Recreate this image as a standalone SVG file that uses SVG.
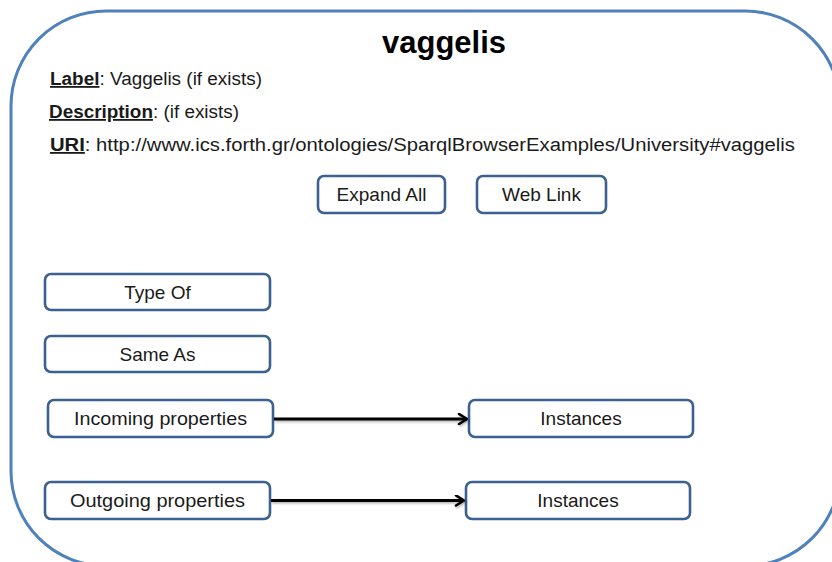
<svg xmlns="http://www.w3.org/2000/svg" width="832" height="562" viewBox="0 0 832 562">
  <style>
    .frame { fill: #ffffff; stroke: #4f81bd; stroke-width: 3; }
    .box { fill: #ffffff; stroke: #3a6191; stroke-width: 2.6; }
    .lbl { font-family: "Liberation Sans", Arial, sans-serif; font-size: 19px; fill: #1a1a1a; text-anchor: middle; }
    .info { font-family: "Liberation Sans", Arial, sans-serif; font-size: 18px; fill: #1a1a1a; }
    .key { font-weight: bold; text-decoration: underline; }
    .title { font-family: "Liberation Sans", Arial, sans-serif; font-size: 31px; font-weight: bold; fill: #000000; text-anchor: middle; }
    .edge { fill: none; stroke: #000000; stroke-width: 3; }
  </style>
  <defs>
    <marker id="arrow" viewBox="0 0 12 12" refX="11" refY="6" markerWidth="12" markerHeight="12" markerUnits="userSpaceOnUse" orient="auto">
      <path d="M3,1 L11,6 L3,11" fill="none" stroke="#000000" stroke-width="2.6" stroke-linecap="round" stroke-linejoin="round"/>
    </marker>
    <filter id="shadow" x="-5%" y="-50%" width="110%" height="200%">
      <feDropShadow dx="1" dy="1.5" stdDeviation="1" flood-color="#000000" flood-opacity="0.3"/>
    </filter>
  </defs>

  <!-- outer resource panel -->
  <g id="resource">
    <rect class="frame" x="11" y="11" width="829" height="555" rx="95" ry="95"/>
    <text class="title" x="444" y="53">vaggelis</text>
    <text class="info" x="50" y="85" textLength="212" lengthAdjust="spacingAndGlyphs"><tspan class="key">Label</tspan>: Vaggelis (if exists)</text>
    <text class="info" x="49" y="118" textLength="190" lengthAdjust="spacingAndGlyphs"><tspan class="key">Description</tspan>:  (if exists)</text>
    <text class="info" x="50" y="151" textLength="745" lengthAdjust="spacingAndGlyphs"><tspan class="key">URI</tspan>:  http://www.ics.forth.gr/ontologies/SparqlBrowserExamples/University#vaggelis</text>
  </g>

  <g id="expand-all">
    <rect class="box" x="318" y="176" width="127" height="37" rx="6"/>
    <text class="lbl" x="381.5" y="201">Expand All</text>
  </g>
  <g id="web-link">
    <rect class="box" x="477" y="176" width="129" height="37" rx="6"/>
    <text class="lbl" x="541.5" y="201">Web Link</text>
  </g>

  <g id="type-of">
    <rect class="box" x="45" y="274" width="225" height="36" rx="6"/>
    <text class="lbl" x="157.5" y="299">Type Of</text>
  </g>
  <g id="same-as">
    <rect class="box" x="45" y="336" width="225" height="36" rx="6"/>
    <text class="lbl" x="157.5" y="361">Same As</text>
  </g>
  <g id="incoming">
    <rect class="box" x="48" y="400" width="225" height="37" rx="6"/>
    <text class="lbl" x="160.5" y="425" textLength="173" lengthAdjust="spacingAndGlyphs">Incoming properties</text>
  </g>
  <g id="incoming-instances">
    <rect class="box" x="469" y="400" width="224" height="37" rx="6"/>
    <text class="lbl" x="581" y="425">Instances</text>
  </g>
  <g id="outgoing">
    <rect class="box" x="45" y="482" width="225" height="37" rx="6"/>
    <text class="lbl" x="157.5" y="507" textLength="175" lengthAdjust="spacingAndGlyphs">Outgoing properties</text>
  </g>
  <g id="outgoing-instances">
    <rect class="box" x="466" y="482" width="224" height="37" rx="6"/>
    <text class="lbl" x="578" y="507">Instances</text>
  </g>

  <!-- connectors -->
  <g id="connectors" filter="url(#shadow)">
    <line class="edge" x1="274" y1="419" x2="467" y2="419" marker-end="url(#arrow)"/>
    <line class="edge" x1="271" y1="500.5" x2="464" y2="500.5" marker-end="url(#arrow)"/>
  </g>
</svg>
